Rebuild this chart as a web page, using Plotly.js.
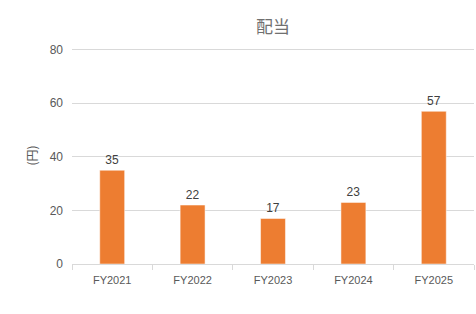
<!DOCTYPE html>
<html>
<head>
<meta charset="utf-8">
<script src="https://cdn.plot.ly/plotly-3.0.1.min.js"></script>
<style>html,body{margin:0;padding:0;background:#fff;}#chart{width:476px;height:314px;}</style>
</head>
<body>
<div id="chart"></div>
<script>
const categories = ["FY2021", "FY2022", "FY2023", "FY2024", "FY2025"];
const dividends = [35, 22, 17, 23, 57];
const yTicks = [0, 20, 40, 60, 80];

const trace = {
  type: 'bar',
  x: categories,
  y: dividends,
  text: dividends.map(String),
  textposition: 'outside',
  cliponaxis: false,
  textfont: {family: 'Liberation Sans, Arial, sans-serif', size: 12, color: '#404040'},
  marker: {color: '#ED7D31', line: {color: '#ffffff', width: 0.5}},
  hoverinfo: 'none'
};

const layout = {
  width: 476,
  height: 314,
  margin: {l: 72, r: 2, t: 47, b: 50},
  paper_bgcolor: '#ffffff',
  plot_bgcolor: '#ffffff',
  showlegend: false,
  bargap: 0.69,
  font: {family: 'Liberation Sans, Arial, sans-serif', color: '#595959', size: 11},
  title: {
    text: '配当',
    x: 0.5, xanchor: 'center', xref: 'paper',
    y: 1, yref: 'container', yanchor: 'top', pad: {t: 21},
    font: {family: 'Noto Sans CJK JP, sans-serif', size: 17, color: '#707070'}
  },
  xaxis: {
    type: 'category',
    showgrid: false,
    showline: true,
    linecolor: '#d9d9d9',
    linewidth: 1,
    ticks: 'outside',
    tickson: 'boundaries',
    ticklen: 5,
    tickcolor: '#d9d9d9',
    ticklabelstandoff: 6,
    tickfont: {size: 11, color: '#595959'},
    zeroline: false
  },
  yaxis: {
    range: [0, 81],
    tickvals: yTicks,
    ticktext: yTicks.map(String),
    showgrid: true,
    gridcolor: '#d9d9d9',
    gridwidth: 1,
    zeroline: false,
    showline: false,
    ticks: '',
    ticklabelstandoff: 8,
    tickfont: {size: 12, color: '#595959'},
    title: {
      text: '(円)',
      standoff: 9,
      font: {family: 'Noto Sans CJK JP, sans-serif', size: 12, color: '#595959'}
    }
  }
};

Plotly.newPlot('chart', [trace], layout, {staticPlot: true, displayModeBar: false});
</script>
</body>
</html>
